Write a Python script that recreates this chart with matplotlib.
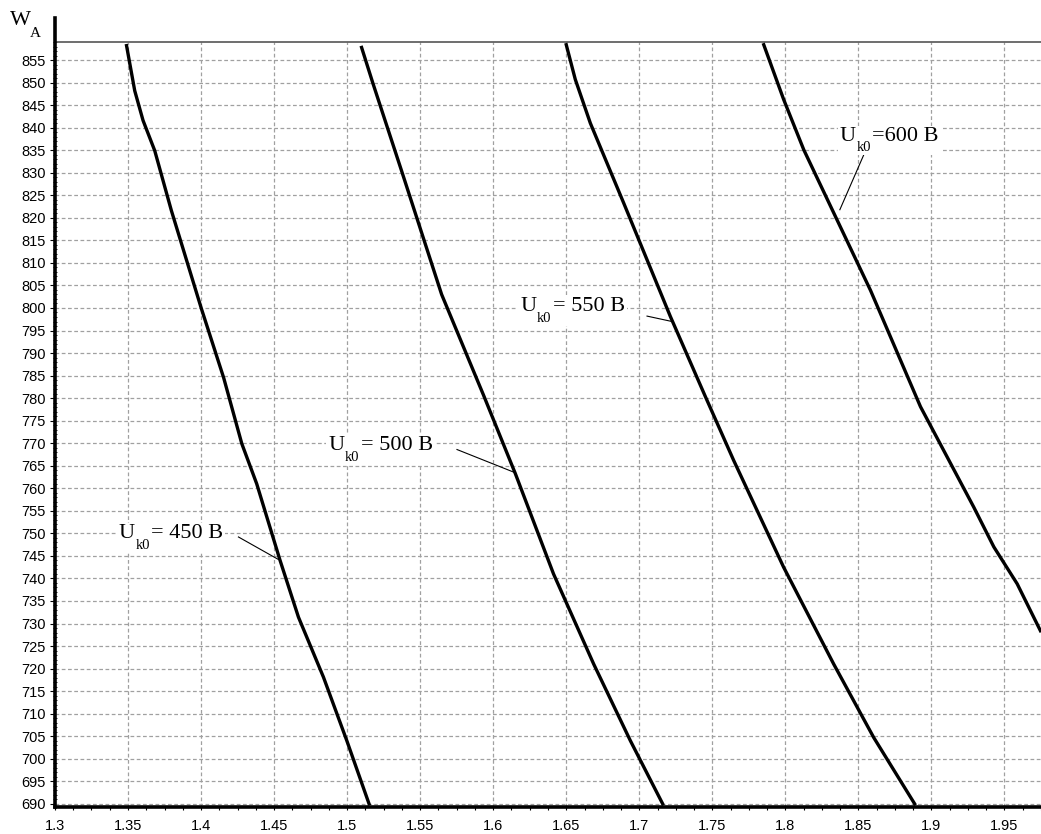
import matplotlib
matplotlib.use("Agg")
import matplotlib.pyplot as plt
from matplotlib.ticker import MultipleLocator, FuncFormatter
from matplotlib.transforms import Bbox
from matplotlib.patches import Rectangle

plt.rcParams['font.family'] = ['Liberation Sans', 'DejaVu Sans']

# Кривые W_A(x) для разных U_k0 (точки)
w_450 = [858.2, 848.2, 841.6, 834.9, 821.6, 800.1, 784.5, 769.9, 761.0, 744.0,
         731.4, 718.1, 704.0, 690.0]
x_450 = [1.349, 1.3546, 1.3603, 1.3683, 1.3797, 1.4000, 1.4155, 1.4279, 1.4381, 1.4541,
         1.4667, 1.4838, 1.4998, 1.515]

w_500 = [857.8, 849.7, 830.4, 803.0, 780.8, 763.3, 741.0, 721.0, 704.0, 690.0]
x_500 = [1.5099, 1.5178, 1.5373, 1.5647, 1.5932, 1.6151, 1.6413, 1.6688, 1.6939, 1.7160]

w_550 = [858.4, 850.7, 841.0, 823.3, 798.1, 780.3, 766.2, 742.5, 721.0, 704.7, 690.0]
x_550 = [1.650, 1.6562, 1.6665, 1.6893, 1.7213, 1.7453, 1.7646, 1.7988, 1.8331, 1.8605, 1.8885]

w_600 = [858.4, 846.2, 835.1, 803.9, 778.1, 755.8, 747.0, 738.8, 728.4]
x_600 = [1.7852, 1.7989, 1.8126, 1.8583, 1.8925, 1.9290, 1.9427, 1.9587, 1.9746]

# подписи: значение U, позиция текста, начало и конец выноски
label_rest = ['= 450 B', '= 500 B', '= 550 B', '=600 B']
label_xy = [(1.3438, 748.9), (1.4872, 768.4), (1.6185, 799.3), (1.8372, 837.1)]
leader_from = [(1.4256, 749.2), (1.5752, 768.6), (1.7053, 798.2), (1.8537, 834.0)]
leader_to = [(1.4530, 744.2), (1.6139, 763.6), (1.7224, 797.0), (1.8373, 821.8)]

x_lim = (1.3, 1.975)
y_lim = (689.3, 859.0)

fig = plt.figure(figsize=(10.41, 8.34), dpi=100)
ax = fig.add_axes([0.0528, 0.0324, 0.9472, 0.9172])

for xs, ws in [(x_450, w_450), (x_500, w_500), (x_550, w_550), (x_600, w_600)]:
    ax.plot(xs, ws, color='black', lw=2.4, solid_joinstyle='round', zorder=3)

serif = 'Liberation Serif'
label_parts = []
for rest, (tx, ty), (x0, y0), (x1, y1) in zip(label_rest, label_xy, leader_from, leader_to):
    t_u = ax.annotate('U', (tx, ty), fontsize=16, family=serif, ha='left', va='baseline', zorder=5)
    t_sub = ax.annotate('k0', (tx, ty), xytext=(12.0, -7.5), textcoords='offset points',
                        fontsize=10.5, family=serif, ha='left', va='baseline', zorder=5)
    t_rest = ax.annotate(rest, (tx, ty), xytext=(23.3, 0), textcoords='offset points',
                         fontsize=16, family=serif, ha='left', va='baseline', zorder=5)
    label_parts.append((t_u, t_sub, t_rest))
    ax.plot([x0, x1], [y0, y1], color='black', lw=0.8, zorder=4)

ax.set_xlim(*x_lim)
ax.set_ylim(*y_lim)

ax.xaxis.set_major_locator(MultipleLocator(0.05))
ax.xaxis.set_minor_locator(MultipleLocator(0.0125))
ax.yaxis.set_major_locator(MultipleLocator(5))
ax.yaxis.set_minor_locator(MultipleLocator(1))
ax.xaxis.set_major_formatter(FuncFormatter(lambda v, p: f'{v:g}'))

ax.grid(True, which='major', color='#a0a0a0', linestyle=(0, (3, 2)), linewidth=0.9)
ax.set_axisbelow(True)

ax.tick_params(axis='x', which='major', direction='out', length=2.5, width=0.8, pad=6, labelsize=10.5)
ax.tick_params(axis='x', which='minor', direction='out', length=2.5, width=0.8)
ax.tick_params(axis='y', which='major', direction='out', length=3.5, width=0.8, pad=3, labelsize=10.5)
ax.tick_params(axis='y', which='minor', direction='inout', length=3, width=0.6)

ax.spines['right'].set_visible(False)
ax.spines['left'].set_visible(False)
ax.spines['top'].set_color('#555555')
ax.spines['top'].set_linewidth(1.2)
ax.spines['bottom'].set_linewidth(2.6)
# левая ось выходит выше рамки
ax.plot([0, 0], [0, 1.0315], transform=ax.transAxes, color='black', lw=2.6, clip_on=False, zorder=5)

# подпись оси W_A
fig.text(0.0096, 0.970, 'W', fontsize=16, family=serif, ha='left', va='baseline')
fig.text(0.0288, 0.956, 'A', fontsize=11, family=serif, ha='left', va='baseline')

# белая подложка под каждой подписью (сетка под текстом не видна)
fig.canvas.draw()
renderer = fig.canvas.get_renderer()
for parts in label_parts:
    bb = Bbox.union([t.get_window_extent(renderer) for t in parts])
    ax.add_patch(Rectangle((bb.x0 - 2, bb.y0 - 1), bb.width + 4, bb.height + 2,
                           transform=None, facecolor='white', edgecolor='none', zorder=4.5))

fig.savefig('out.png', dpi=100)
